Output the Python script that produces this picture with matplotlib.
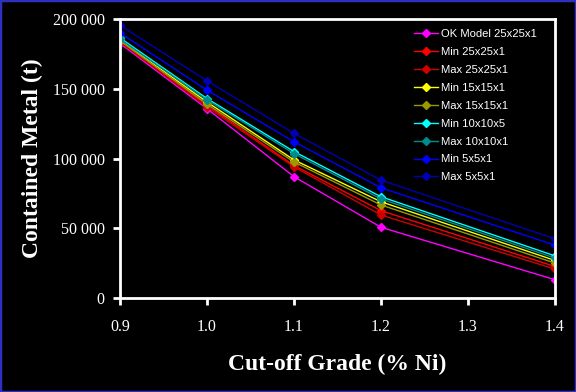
import numpy as np
import matplotlib
matplotlib.use("Agg")
import matplotlib.pyplot as plt
from matplotlib.patches import Rectangle

# cut-off grades (% Ni) with data
grades = [0.9, 1.0, 1.1, 1.2, 1.4]

ok_25 = [182500, 135700, 87000, 50700, 13100]
min_25 = [184000, 138000, 95000, 62600, 22600]
max_25 = [183500, 137000, 94000, 59500, 20700]
min_15 = [185000, 140500, 99000, 69000, 26900]
max_15 = [184500, 139000, 97500, 66700, 25000]
min_10 = [186500, 143000, 105000, 72600, 30200]
max_10 = [185500, 142000, 103500, 71000, 28600]
min_5 = [190000, 149000, 112000, 79000, 37900]
max_5 = [195500, 155700, 118000, 84500, 42400]

series = [
    ("OK Model 25x25x1", ok_25, "#ff00ff"),
    ("Min 25x25x1", min_25, "#ff0000"),
    ("Max 25x25x1", max_25, "#cc0000"),
    ("Min 15x15x1", min_15, "#ffff00"),
    ("Max 15x15x1", max_15, "#999900"),
    ("Min 10x10x5", min_10, "#00ffff"),
    ("Max 10x10x1", max_10, "#008c8c"),
    ("Min 5x5x1", min_5, "#0000ff"),
    ("Max 5x5x1", max_5, "#0000b0"),
]

fig = plt.figure(figsize=(5.76, 3.92), dpi=100, facecolor="black")
fig.patches.append(Rectangle((0, 0), 1, 1, transform=fig.transFigure,
                             fill=False, edgecolor="#3030c0", linewidth=2.5))
ax = fig.add_axes([0.2083, 0.2398, 0.7552, 0.7117], facecolor="black")

for name, vals, col in series:
    ax.plot(grades, vals, color=col, lw=1.0, marker="D", markersize=4,
            markeredgecolor=col, label=name)

ax.set_xlim(0.9, 1.4)
ax.set_ylim(0, 200000)
ax.set_xticks([0.9, 1.0, 1.1, 1.2, 1.3, 1.4])
ax.set_xticklabels(["0.9", "1.0", "1.1", "1.2", "1.3", "1.4"])
ax.set_yticks([0, 50000, 100000, 150000, 200000])
ax.set_yticklabels(["0", "50 000", "100 000", "150 000", "200 000"])

for s in ax.spines.values():
    s.set_color("white")
    s.set_linewidth(2)
ax.tick_params(colors="white", width=2, length=5, direction="out", labelsize=11.5, pad=6)
for lab in ax.get_xticklabels() + ax.get_yticklabels():
    lab.set_family("Liberation Serif")
ax.tick_params(axis="x", pad=10)

ax.set_xlabel("Cut-off Grade (% Ni)", color="white", fontsize=17, fontweight="bold",
              family="Liberation Serif", labelpad=14)
ax.set_ylabel("Contained Metal (t)", color="white", fontsize=17, fontweight="bold",
              family="Liberation Serif", labelpad=7)

leg = ax.legend(loc="upper right", bbox_to_anchor=(0.969, 0.979), borderaxespad=0,
                frameon=False, handlelength=2.1, labelspacing=0.7, handletextpad=0.27,
                prop={"family": "Liberation Sans", "size": 8.1})
for t in leg.get_texts():
    t.set_color("white")

fig.savefig("out.png", dpi=100, facecolor="black")
